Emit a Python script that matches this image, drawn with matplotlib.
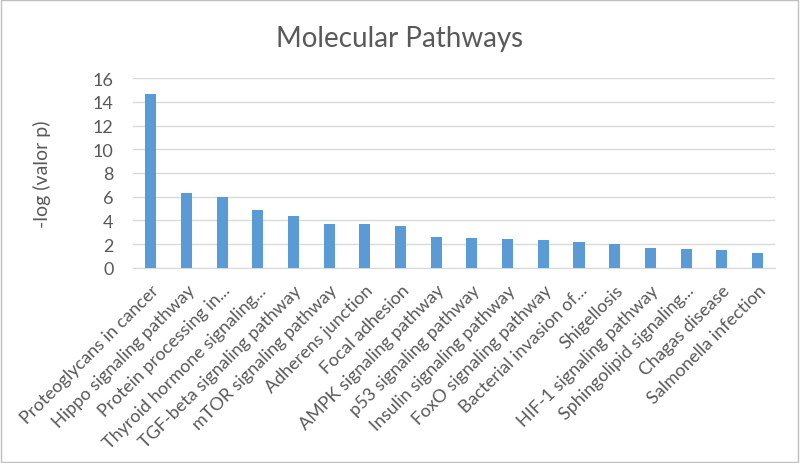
import matplotlib
matplotlib.use("Agg")
import matplotlib.pyplot as plt
from matplotlib.patches import Rectangle

categories = [
    "Proteoglycans in cancer", "Hippo signaling pathway", "Protein processing in...",
    "Thyroid hormone signaling...", "TGF-beta signaling pathway", "mTOR signaling pathway",
    "Adherens junction", "Focal adhesion", "AMPK signaling pathway", "p53 signaling pathway",
    "Insulin signaling pathway", "FoxO signaling pathway", "Bacterial invasion of...",
    "Shigellosis", "HIF-1 signaling pathway", "Sphingolipid signaling...", "Chagas disease",
    "Salmonella infection",
]
values = [14.65, 6.35, 5.98, 4.86, 4.41, 3.68, 3.68, 3.57, 2.62, 2.49, 2.47, 2.33, 2.22,
          2.0, 1.66, 1.64, 1.54, 1.26]
yticks = [0, 2, 4, 6, 8, 10, 12, 14, 16]

plt.rcParams['font.family'] = ['Lato', 'DejaVu Sans']
txt = '#595959'

fig = plt.figure(figsize=(8, 4.64), dpi=100)
ax = fig.add_axes([0.16625, 0.4203, 0.8028, 0.4094])
x = list(range(len(categories)))
ax.bar(x, values, width=0.31, color='#5B9BD5', zorder=3)
ax.set_xlim(-0.5, len(categories) - 0.5)
ax.set_ylim(0, 16)
ax.set_yticks(yticks)
ax.set_yticklabels([str(v) for v in yticks], fontsize=13, color=txt)
ax.set_xticks(x)
ax.set_xticklabels(categories, rotation=45, ha='right', rotation_mode='anchor',
                   fontsize=13, color=txt)
ax.tick_params(axis='both', length=0)
ax.tick_params(axis='y', pad=14)
ax.tick_params(axis='x', pad=10)
ax.grid(axis='y', color='#D9D9D9', linewidth=1, zorder=0)
for s in ['top', 'right', 'left']:
    ax.spines[s].set_visible(False)
ax.spines['bottom'].set_color('#D9D9D9')
ax.set_ylabel('-log (valor p)', fontsize=14, color=txt)
ax.yaxis.set_label_coords(-0.128, 0.5)
fig.text(0.5, 0.915, 'Molecular Pathways', ha='center', va='center', fontsize=20, color=txt)
fig.patches.append(Rectangle((0.001, 0.002), 0.997, 0.996, transform=fig.transFigure,
                             fill=False, edgecolor='#BFBFBF', linewidth=1))
fig.savefig('out.png', dpi=100)
